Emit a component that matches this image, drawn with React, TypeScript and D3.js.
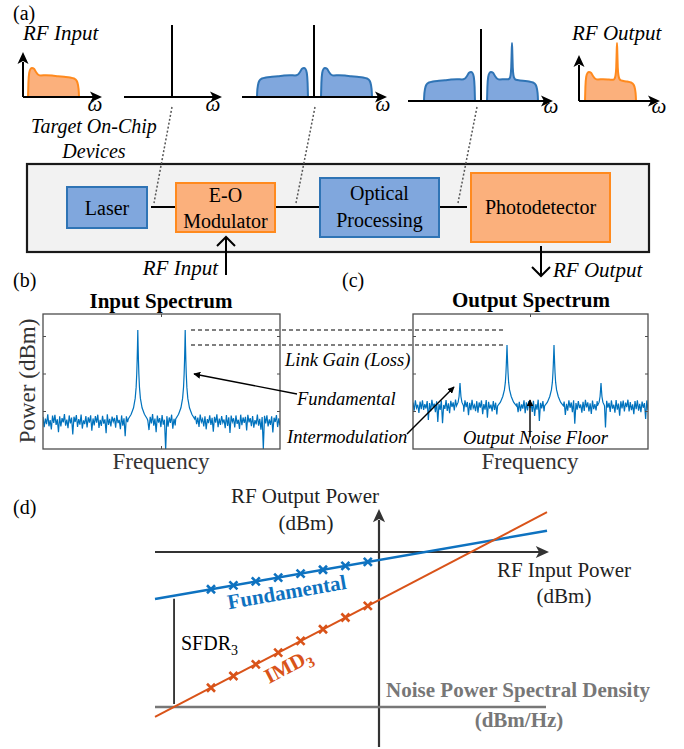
import React from 'react';
import * as d3 from 'd3';

// ---------- (a) band envelopes: [offset, height] on a 51 px band ----------
const bandShape: [number, number][] = [
  [0, 0], [0.4, 14], [1.2, 24], [2.5, 28], [4, 29], [6, 28.2], [8, 25], [10, 22.5], [13, 21.5],
  [18, 21.8], [24, 21.5], [30, 20.8], [36, 20.2], [42, 19.5], [46, 18.5], [48.5, 16.5], [50, 12], [50.8, 5], [51, 0],
];
// same band with a processed tone near offset 25
const bandToneA: [number, number][] = [
  [0, 0], [0.4, 14], [1.2, 24], [2.5, 28], [4, 29], [6, 28.2], [8, 25], [10, 22.5], [13, 21.5],
  [18, 21.8], [21, 21.7], [22.5, 22.5], [23.5, 25.5], [24.2, 33], [24.6, 46], [25, 58], [25.4, 46], [25.8, 33],
  [26.5, 25.5], [27.5, 22.5], [29, 21.2], [33, 20.6], [36, 20.2], [42, 19.5], [46, 18.5], [48.5, 16.5], [50, 12], [50.8, 5], [51, 0],
];
// output band, tone near offset 32
const bandToneB: [number, number][] = [
  [0, 0], [0.4, 14], [1.2, 24], [2.5, 28], [4, 29], [6, 28.2], [8, 25], [10, 22.5], [13, 21.5],
  [18, 21.8], [24, 21.5], [28, 21.2], [29.5, 22.3], [30.5, 25.5], [31.2, 33], [31.6, 46], [32, 58], [32.4, 46], [32.8, 33],
  [33.5, 25.5], [34.5, 22], [36, 20.6], [42, 19.5], [46, 18.5], [48.5, 16.5], [50, 12], [50.8, 5], [51, 0],
];

// ---------- (b)/(c) spectra ----------
const toneFreqs = [0.4, 0.6];
const imdFreqs = [0.2, 0.8];
const inFloor = -65;
const outFloor = -57;
const inNoise = [
  2.1, -3.4, 1.2, -1.8, 3.5, -2.9, 0.4, -4.6, 2.8, -1.1,
  3.2, -2.2, 0.9, -6.1, 2.4, -3.0, 1.5, -0.8, 3.6, -2.5,
  0.7, -3.9, 2.9, -1.4, 1.8, -7.3, 2.2, -0.6, 3.1, -3.2,
  1.0, -2.0, 3.4, -4.1, 0.3, -1.7, 2.6, -3.5, 1.9, -0.9,
  3.0, -5.2, 1.3, -2.4, 2.5, -1.0, 3.3, -3.8, 0.6, -2.7,
  2.7, -1.5, 0.8, -6.6, 3.5, -2.1, 1.1, -3.0, 2.3, -0.4,
  1.6, -3.6, 3.1, -1.2, 0.5, -4.4, 2.9, -2.6, 1.4, -8.2,
  2.4, -0.7, 3.2, -3.1, 1.0, -2.2, 2.0, -5.0, 3.4, -1.6,
  0.9, -2.8, 2.6, -0.5, 1.7, -3.7, 3.0, -1.9, 0.2, -4.9,
  2.2, -1.3, 3.6, -2.6, 1.2, -6.0, 2.8, -0.9, 1.5, -3.3,
  3.1, -2.0, 0.6, -15.5, 2.5, -3.1, 1.8, -1.1, 3.3, -4.2,
  1.1, -2.4, 2.7, -0.8, 3.5, -5.5, 0.8, -2.0, 2.1, -3.6,
  2.9, -1.4, 1.3, -4.0, 3.2, -2.5, 0.4, -7.0, 2.6, -1.8,
  1.7, -3.2, 3.4, -0.6, 1.0, -2.9, 2.4, -4.5, 0.9, -1.2,
  3.0, -2.2, 1.6, -5.8, 2.2, -0.9, 3.5, -3.4, 1.2, -2.1,
  2.5, -1.0, 0.7, -3.9, 3.1, -2.7, 1.9, -6.4, 2.8, -0.5,
  1.4, -3.5, 2.9, -1.6, 0.6, -4.3, 3.3, -2.3, 1.8, -1.1,
  2.2, -5.1, 3.2, -0.8, 1.5, -2.8, 2.6, -3.6, 0.4, -1.9,
  3.4, -2.5, 1.1, -4.7, 2.0, -15.0, 2.7, -1.4, 3.0, -3.0,
  0.8, -2.1, 2.4, -6.2, 1.7, -0.6, 3.1, -3.3, 1.3, -2.4,
];
const outNoise = [
  1.8, -2.6, 2.9, -1.1, 0.6, -3.8, 2.3, -1.7, 3.0, -2.2,
  0.9, -1.4, 2.6, -7.5, 1.5, -2.9, 3.2, -0.8, 1.2, -3.4,
  2.4, -8.6, 1.0, -2.1, 2.8, -9.2, 0.5, -1.6, 3.1, -2.7,
  1.4, -3.9, 2.7, -0.6, 1.9, -2.4, 3.3, -1.3, 0.8, -4.2,
  2.6, -1.9, 1.2, -3.1, 3.0, -0.7, 2.1, -5.0, 1.6, -2.3,
  3.2, -1.2, 0.4, -2.8, 2.5, -3.6, 1.8, -0.9, 2.9, -4.4,
  1.0, -2.0, 3.1, -6.3, 2.2, -1.5, 0.7, -3.0, 2.6, -2.1,
  1.7, -4.6, 3.4, -0.8, 1.1, -2.6, 2.8, -1.8, 0.3, -3.5,
  2.9, -1.1, 1.5, -4.1, 2.4, -2.2, 3.2, -0.6, 1.3, -3.3,
  2.1, -2.8, 0.8, -1.5, 3.0, -3.9, 1.9, -2.4, 2.6, -1.0,
  1.4, -3.2, 2.7, -5.4, 0.9, -2.0, 3.3, -8.0, 1.6, -1.3,
  2.5, -2.9, 1.2, -3.7, 3.1, -0.5, 2.0, -2.6, 0.6, -4.0,
  2.8, -1.6, 1.7, -2.3, 3.4, -3.1, 0.5, -1.9, 2.3, -4.8,
  1.1, -2.5, 2.9, -1.0, 1.8, -3.4, 3.0, -9.5, 1.5, -2.0,
  2.6, -1.2, 0.7, -3.6, 2.2, -2.7, 3.2, -0.8, 1.9, -3.0,
  1.3, -4.3, 2.8, -1.7, 0.9, -2.4, 2.5, -1.1, 3.3, -3.8,
  2.0, -2.2, 1.4, -11.5, 2.7, -0.9, 1.6, -3.2, 2.9, -1.5,
  0.6, -3.6, 3.1, -2.0, 1.2, -5.2, 2.4, -1.4, 2.8, -2.9,
  1.7, -0.7, 3.3, -3.0, 2.0, -2.3, 0.8, -4.4, 2.6, -1.8,
  3.0, -2.5, 1.1, -3.3, 2.3, -1.0, 1.5, -7.0, 2.9, -2.2,
];
const peakOffsets = [-0.04, -0.028, -0.018, -0.011, -0.007, -0.0045, -0.0028, -0.0013, 0, 0.0013, 0.0028, 0.0045, 0.007, 0.011, 0.018, 0.028, 0.04];
const inPeakLevels = [-64, -61.5, -58, -53, -47, -40, -33, -25, -16.5, -25, -33, -40, -47, -53, -58, -61.5, -64];
const outPeakLevels = [-57, -55, -52, -48.5, -44.5, -39.5, -34.5, -29.5, -24.5, -29.5, -34.5, -39.5, -44.5, -48.5, -52, -55, -57];
const imdOffsets = [-0.015, -0.008, -0.004, -0.002, 0, 0.002, 0.004, 0.008, 0.015];
const imdLevels = [-57, -55, -52, -48.5, -44.8, -48.5, -52, -55, -57];
const powerTicks = [-60, -40, -20];
const freqTicks = [0.5];

// ---------- (d) two-tone linearity ----------
const inputPower = [-30, -26, -22, -18, -14, -10, -6, -2];
const fundOut = [-38.2, -34.2, -30.2, -26.2, -22.2, -18.2, -14.2, -10.2];
const imd3Out = [-139.2, -127.2, -115.2, -103.2, -91.2, -79.2, -67.2, -55.2];
const lineInput = [-40, 30];
const fundLine = [-48.2, 21.8];
const imd3Line = [-169.2, 40.8];
const noiseFloorLevel = -159;
const sfdrInput = -36.6;

const FONT = "'Liberation Serif', 'Times New Roman', serif";
const ORANGE_FILL = '#FBB07C';
const ORANGE_LINE = '#FF8A1E';
const BLUE_FILL = '#80A7DD';
const BLUE_LINE = '#2F74B5';
const SPEC = '#0072BD';
const D_BLUE = '#0E72C0';
const D_ORANGE = '#D95319';

const arrowRight = (x: number, y: number, s = 1) =>
  `M${x},${y}L${x - 12 * s},${y - 5.5 * s}L${x - 9 * s},${y}L${x - 12 * s},${y + 5.5 * s}Z`;
const arrowUp = (x: number, y: number, s = 1) =>
  `M${x},${y}L${x - 5.5 * s},${y + 12 * s}L${x},${y + 9 * s}L${x + 5.5 * s},${y + 12 * s}Z`;

function bandPath(shape: [number, number][], x0: number, base: number, mirror = false) {
  const pts = mirror ? shape.map(([o, h]) => [51 - o, h] as [number, number]).reverse() : shape;
  const x = d3.scaleLinear().domain([0, 51]).range([x0, x0 + 51]);
  const y = d3.scaleLinear().domain([0, 60]).range([base, base - 60]);
  return d3.line<[number, number]>().x(d => x(d[0])).y(d => y(d[1])).curve(d3.curveMonotoneX)(pts) + 'Z';
}

type Peak = { f: number; offsets: number[]; levels: number[] };
function buildSpectrum(noise: number[], floor: number, peaks: Peak[]) {
  const n = noise.length;
  const pts: [number, number][] = [];
  noise.forEach((d, i) => {
    const f = i / (n - 1);
    if (peaks.some(p => Math.abs(f - p.f) <= p.offsets[p.offsets.length - 1])) return;
    pts.push([f, floor + d]);
  });
  peaks.forEach(p => p.offsets.forEach((o, j) => pts.push([p.f + o, p.levels[j]])));
  return pts.sort((a, b) => a[0] - b[0]);
}

function Spectrum({ x0, x1, pts, id }: { x0: number; x1: number; pts: [number, number][]; id: string }) {
  const top = 314, bottom = 449;
  const x = d3.scaleLinear().domain([0, 1]).range([x0, x1]);
  const y = d3.scaleLinear().domain([-80, -8]).range([bottom, top]);
  const line = d3.line<[number, number]>().x(d => x(d[0])).y(d => y(d[1]));
  return (
    <g>
      <clipPath id={id}><rect x={x0} y={top} width={x1 - x0} height={bottom - top} /></clipPath>
      <rect x={x0} y={top} width={x1 - x0} height={bottom - top} fill="#fff" />
      <path d={line(pts) || ''} fill="none" stroke={SPEC} strokeWidth={1.2} clipPath={`url(#${id})`} />
      <rect x={x0} y={top} width={x1 - x0} height={bottom - top} fill="none" stroke="#4d4d4d" strokeWidth={1.3} />
      {powerTicks.map(t => (
        <g key={t} stroke="#4d4d4d" strokeWidth={1}>
          <line x1={x0} x2={x0 + 3} y1={y(t)} y2={y(t)} />
          <line x1={x1} x2={x1 - 3} y1={y(t)} y2={y(t)} />
        </g>
      ))}
      {freqTicks.map(t => (
        <g key={t} stroke="#4d4d4d" strokeWidth={1}>
          <line x1={x(t)} x2={x(t)} y1={top} y2={top + 3} />
          <line x1={x(t)} x2={x(t)} y1={bottom} y2={bottom - 3} />
        </g>
      ))}
    </g>
  );
}

export default function App() {
  // spectra
  const inPts = buildSpectrum(inNoise, inFloor, toneFreqs.map(f => ({ f, offsets: peakOffsets, levels: inPeakLevels })));
  const outPts = buildSpectrum(outNoise, outFloor, [
    ...toneFreqs.map(f => ({ f, offsets: peakOffsets, levels: outPeakLevels })),
    ...imdFreqs.map(f => ({ f, offsets: imdOffsets, levels: imdLevels })),
  ]);
  const specY = d3.scaleLinear().domain([-80, -8]).range([449, 314]);

  // (d) scales
  const px = d3.scaleLinear().domain([-40, 30]).range([155, 547]);
  const py = d3.scaleLinear().domain([0, -100]).range([552, 649.5]);
  const lineGen = d3.line<[number, number]>().x(d => px(d[0])).y(d => py(d[1]));
  const fundPts = lineInput.map((v, i) => [v, fundLine[i]] as [number, number]);
  const imdPts = lineInput.map((v, i) => [v, imd3Line[i]] as [number, number]);
  const fundAngle = (Math.atan2(py(fundLine[1]) - py(fundLine[0]), px(lineInput[1]) - px(lineInput[0])) * 180) / Math.PI;
  const imdAngle = (Math.atan2(py(imd3Line[1]) - py(imd3Line[0]), px(lineInput[1]) - px(lineInput[0])) * 180) / Math.PI;
  const cross = (x: number, y: number, r = 4) => `M${x - r},${y - r}L${x + r},${y + r}M${x - r},${y + r}L${x + r},${y - r}`;
  const sfdrX = px(sfdrInput);
  const sfdrTop = py(d3.interpolateNumber(fundLine[0], fundLine[1])((sfdrInput - lineInput[0]) / (lineInput[1] - lineInput[0])));

  return (
    <svg width={684} height={749} style={{ position: 'absolute', left: 0, top: 0, background: '#fff' }} fontFamily={FONT}>
      {/* ---------------- (a) ---------------- */}
      <text x={13} y={20} fontSize={20}>(a)</text>
      <text x={23} y={40} fontSize={21} fontStyle="italic">RF Input</text>
      <text x={572} y={40} fontSize={21} fontStyle="italic">RF Output</text>

      {/* mini spectrum 1: RF input */}
      <path d={bandPath(bandShape, 28, 97)} fill={ORANGE_FILL} stroke={ORANGE_LINE} strokeWidth={2} />
      <line x1={23} y1={97} x2={23} y2={62} stroke="#000" strokeWidth={2} />
      <path d={arrowUp(23, 52)} fill="#000" />
      <line x1={23} y1={97} x2={93} y2={97} stroke="#000" strokeWidth={2} />
      <path d={arrowRight(102, 97)} fill="#000" />
      <text x={95} y={111} fontSize={21} fontStyle="italic" textAnchor="middle">ω</text>

      {/* mini spectrum 2: laser */}
      <line x1={124} y1={97} x2={213} y2={97} stroke="#000" strokeWidth={2} />
      <path d={arrowRight(222, 97)} fill="#000" />
      <line x1={172} y1={97} x2={172} y2={25} stroke="#000" strokeWidth={2} />
      <text x={213} y={111} fontSize={21} fontStyle="italic" textAnchor="middle">ω</text>

      {/* mini spectrum 3: modulated */}
      <path d={bandPath(bandShape, 257, 97, true)} fill={BLUE_FILL} stroke={BLUE_LINE} strokeWidth={2} />
      <path d={bandPath(bandShape, 321, 97)} fill={BLUE_FILL} stroke={BLUE_LINE} strokeWidth={2} />
      <line x1={242} y1={97} x2={378} y2={97} stroke="#000" strokeWidth={2} />
      <path d={arrowRight(387, 97)} fill="#000" />
      <line x1={314} y1={97} x2={314} y2={25} stroke="#000" strokeWidth={2} />
      <text x={383} y={111} fontSize={21} fontStyle="italic" textAnchor="middle">ω</text>

      {/* mini spectrum 4: processed */}
      <path d={bandPath(bandShape, 424, 101, true)} fill={BLUE_FILL} stroke={BLUE_LINE} strokeWidth={2} />
      <path d={bandPath(bandToneA, 487, 101)} fill={BLUE_FILL} stroke={BLUE_LINE} strokeWidth={2} />
      <line x1={408} y1={101} x2={544} y2={101} stroke="#000" strokeWidth={2} />
      <path d={arrowRight(553, 101)} fill="#000" />
      <line x1={481} y1={101} x2={481} y2={29} stroke="#000" strokeWidth={2} />
      <text x={551} y={113} fontSize={21} fontStyle="italic" textAnchor="middle">ω</text>

      {/* mini spectrum 5: RF output */}
      <path d={bandPath(bandToneB, 585, 101)} fill={ORANGE_FILL} stroke={ORANGE_LINE} strokeWidth={2} />
      <line x1={579} y1={101} x2={579} y2={65} stroke="#000" strokeWidth={2} />
      <path d={arrowUp(579, 55)} fill="#000" />
      <line x1={579} y1={101} x2={651} y2={101} stroke="#000" strokeWidth={2} />
      <path d={arrowRight(660, 101)} fill="#000" />
      <text x={659} y={113} fontSize={21} fontStyle="italic" textAnchor="middle">ω</text>

      <text x={94} y={133} fontSize={20} fontStyle="italic" textAnchor="middle">Target On-Chip</text>
      <text x={94} y={158} fontSize={20} fontStyle="italic" textAnchor="middle">Devices</text>

      {/* block diagram */}
      <rect x={27} y={164} width={622} height={88} fill="#F2F2F2" stroke="#1a1a1a" strokeWidth={2.2} />
      <g stroke="#555" strokeWidth={1.5} strokeDasharray="2,2">
        <line x1={172} y1={107} x2={154} y2={203} />
        <line x1={315} y1={107} x2={296} y2={203} />
        <line x1={477} y1={107} x2={458} y2={203} />
      </g>
      <g stroke="#000" strokeWidth={2}>
        <line x1={151} y1={207} x2={176} y2={207} />
        <line x1={275} y1={207} x2={320} y2={207} />
        <line x1={439} y1={207} x2={467} y2={207} />
      </g>
      <rect x={67} y={187} width={80} height={41} fill={BLUE_FILL} stroke={BLUE_LINE} strokeWidth={2} />
      <text x={107} y={215} fontSize={20} textAnchor="middle">Laser</text>
      <rect x={176} y={183} width={99} height={49} fill={ORANGE_FILL} stroke={ORANGE_LINE} strokeWidth={2} />
      <text x={225.5} y={202} fontSize={20} textAnchor="middle">E-O</text>
      <text x={225.5} y={228} fontSize={20} textAnchor="middle">Modulator</text>
      <rect x={320} y={178} width={119} height={59} fill={BLUE_FILL} stroke={BLUE_LINE} strokeWidth={2} />
      <text x={379.5} y={200} fontSize={20} textAnchor="middle">Optical</text>
      <text x={379.5} y={227} fontSize={20} textAnchor="middle">Processing</text>
      <rect x={471} y={173} width={139} height={69} fill={ORANGE_FILL} stroke={ORANGE_LINE} strokeWidth={2} />
      <text x={540.5} y={214} fontSize={20} textAnchor="middle">Photodetector</text>

      {/* RF in / out arrows */}
      <g stroke="#000" strokeWidth={2} fill="none">
        <line x1={226} y1={275} x2={226} y2={237} />
        <polyline points="217,246 226,237 235,246" />
        <line x1={541} y1={246} x2={541} y2={276} />
        <polyline points="532,267 541,276 550,267" />
      </g>
      <text x={218} y={275} fontSize={21} fontStyle="italic" textAnchor="end">RF Input</text>
      <text x={553} y={277} fontSize={21} fontStyle="italic">RF Output</text>

      {/* ---------------- (b) & (c) ---------------- */}
      <text x={13} y={287} fontSize={20}>(b)</text>
      <text x={342} y={287} fontSize={20}>(c)</text>
      <text x={161} y={308} fontSize={21} fontWeight="bold" textAnchor="middle">Input Spectrum</text>
      <text x={531} y={307} fontSize={21} fontWeight="bold" textAnchor="middle">Output Spectrum</text>
      <Spectrum x0={43} x1={280} pts={inPts} id="clipIn" />
      <Spectrum x0={413} x1={648} pts={outPts} id="clipOut" />
      <text transform="translate(35,381) rotate(-90)" fontSize={23} fill="#333" textAnchor="middle">Power (dBm)</text>
      <text x={161} y={469} fontSize={23} fill="#333" textAnchor="middle">Frequency</text>
      <text x={530} y={469} fontSize={23} fill="#333" textAnchor="middle">Frequency</text>

      {/* link gain */}
      <g stroke="#555" strokeWidth={1.5} strokeDasharray="4,3">
        <line x1={191} x2={503} y1={specY(inPeakLevels[8])} y2={specY(inPeakLevels[8])} />
        <line x1={191} x2={503} y1={specY(outPeakLevels[8])} y2={specY(outPeakLevels[8])} />
      </g>
      <text x={285} y={366} fontSize={18.5} fontStyle="italic">Link Gain (Loss)</text>
      <text x={297} y={405} fontSize={18.5} fontStyle="italic">Fundamental</text>
      <text x={287} y={443} fontSize={18.5} fontStyle="italic">Intermodulation</text>
      <text x={463} y={444} fontSize={18.5} fontStyle="italic">Output Noise Floor</text>
      <defs>
        <marker id="ah" viewBox="0 0 10 10" refX={9} refY={5} markerWidth={7} markerHeight={7} orient="auto-start-reverse" markerUnits="userSpaceOnUse">
          <path d="M0,0L10,5L0,10Z" fill="#000" />
        </marker>
      </defs>
      <g stroke="#000" strokeWidth={1.4}>
        <line x1={297} y1={394} x2={194} y2={374} markerEnd="url(#ah)" />
        <line x1={407} y1={434} x2={454} y2={387} markerEnd="url(#ah)" />
        <line x1={530} y1={437} x2={530} y2={400} markerEnd="url(#ah)" />
      </g>

      {/* ---------------- (d) ---------------- */}
      <text x={13} y={514} fontSize={20}>(d)</text>
      <text x={305} y={503} fontSize={21} fill="#222" textAnchor="middle">RF Output Power</text>
      <text x={306} y={530} fontSize={21} fill="#222" textAnchor="middle">(dBm)</text>
      <text x={564} y={577} fontSize={21} fill="#222" textAnchor="middle">RF Input Power</text>
      <text x={564} y={603} fontSize={21} fill="#222" textAnchor="middle">(dBm)</text>

      <line x1={px(-40)} x2={539} y1={py(0)} y2={py(0)} stroke="#333" strokeWidth={2.2} />
      <path d={arrowRight(549, py(0), 1.1)} fill="#333" />
      <line x1={px(0)} x2={px(0)} y1={747} y2={520} stroke="#333" strokeWidth={2.2} />
      <path d={arrowUp(px(0), 509, 1.1)} fill="#333" />
      <line x1={px(-40)} x2={546} y1={py(noiseFloorLevel)} y2={py(noiseFloorLevel)} stroke="#777" strokeWidth={2.5} />

      <line x1={sfdrX} x2={sfdrX} y1={sfdrTop + 3} y2={py(noiseFloorLevel) - 3} stroke="#000" strokeWidth={1.5} />
      <text x={181} y={650} fontSize={20}>SFDR<tspan dy={5} fontSize={14}>3</tspan></text>

      <path d={lineGen(fundPts) || ''} fill="none" stroke={D_BLUE} strokeWidth={2.5} />
      <path d={lineGen(imdPts) || ''} fill="none" stroke={D_ORANGE} strokeWidth={2} />
      {inputPower.map((v, i) => (
        <path key={'f' + i} d={cross(px(v), py(fundOut[i]))} stroke={D_BLUE} strokeWidth={2.6} fill="none" />
      ))}
      {inputPower.map((v, i) => (
        <path key={'m' + i} d={cross(px(v), py(imd3Out[i]))} stroke={D_ORANGE} strokeWidth={2.6} fill="none" />
      ))}
      <text transform={`translate(288,599) rotate(${fundAngle})`} fontSize={21} fontWeight="bold" fill={D_BLUE} textAnchor="middle">Fundamental</text>
      <text transform={`translate(269,684) rotate(${imdAngle})`} fontSize={21} fontWeight="bold" fill={D_ORANGE}>IMD<tspan dy={5} fontSize={15}>3</tspan></text>

      <text x={518} y={697} fontSize={21} fontWeight="bold" fill="#777" textAnchor="middle">Noise Power Spectral Density</text>
      <text x={519} y={727} fontSize={21} fontWeight="bold" fill="#777" textAnchor="middle">(dBm/Hz)</text>
    </svg>
  );
}
